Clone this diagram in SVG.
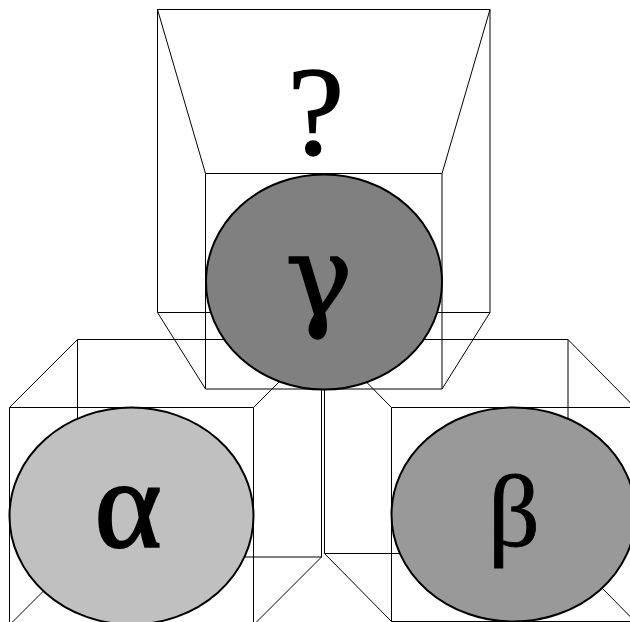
<svg xmlns="http://www.w3.org/2000/svg" width="630" height="622" viewBox="0 0 630 622">
<style>
.w{fill:none;stroke:#000;stroke-width:1}
.n{stroke:#000;stroke-width:2}
text{font-family:"Liberation Serif","Times New Roman",serif;fill:#000;text-anchor:middle}
</style>
<rect width="630" height="622" fill="#fff"/>
<g id="connectors"></g>
<g id="box-beta">
<path class="w" d="M324.5 339.5H568V553.5H324.5ZM391.5 407.5H635V621.5H391.5ZM324.5 339.5L391.5 407.5M568 339.5L635 407.5M324.5 553.5L391.5 621.5M568 553.5L635 621.5"/>
</g>
<g id="node-beta">
<ellipse class="n" cx="513.5" cy="514.5" rx="122" ry="107" fill="#999"/>
<text x="514" y="546" font-size="102" stroke="#000" stroke-width="0.8">β</text>
</g>
<g id="box-alpha">
<path class="w" d="M77.5 339.5H321.5V557H77.5ZM9.5 407.5H253.5V625H9.5ZM77.5 339.5L9.5 407.5M321.5 339.5L253.5 407.5M77.5 557L9.5 625M321.5 557L253.5 625"/>
</g>
<g id="node-alpha">
<ellipse class="n" cx="131.5" cy="516" rx="122" ry="108.5" fill="#c0c0c0"/>
<text x="128" y="547" font-size="128" stroke="#000" stroke-width="2.2">α</text>
</g>
<g id="box-gamma">
<path class="w" d="M157.5 9.5H490V312.5H157.5ZM205.5 173.5H442V389H205.5ZM157.5 9.5L205.5 173.5M490 9.5L442 173.5M157.5 312.5L205.5 389M490 312.5L442 389"/>
</g>
<g id="node-gamma">
<ellipse class="n" cx="324" cy="282" rx="118" ry="107.5" fill="#808080"/>
<text x="319" y="316" font-size="113" stroke="#000" stroke-width="1.5" style="font-family:'DejaVu Serif',serif">γ</text>
</g>
<g id="node-unknown">
<text x="316" y="154" font-size="127" stroke="#000" stroke-width="1.5">?</text>
</g>
</svg>
